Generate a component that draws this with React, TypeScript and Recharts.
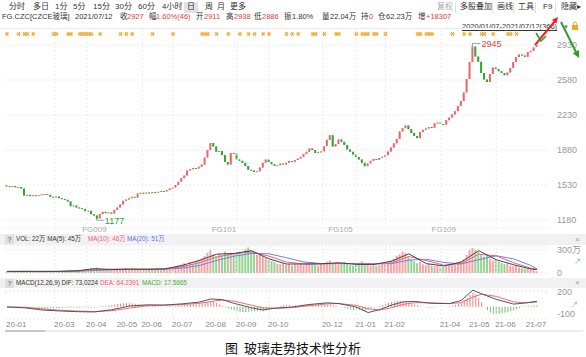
import React from 'react'
import { ComposedChart, Bar, Line, Scatter, XAxis, YAxis, CartesianGrid, ReferenceLine, Cell } from 'recharts'

// closes, one bar = 2 trading days, 2020/01/07 - 2021/07/12
const closes = [
  1518, 1512, 1520, 1508, 1510, 1495, 1425, 1432, 1418, 1428,
  1422, 1430, 1436, 1440, 1432, 1412, 1408, 1415, 1398, 1390,
  1382, 1365, 1318, 1325, 1305, 1298, 1290, 1268, 1272, 1238,
  1225, 1195, 1240, 1262, 1248, 1255, 1245, 1282, 1305, 1335,
  1372, 1385, 1398, 1412, 1405, 1445, 1452, 1448, 1455, 1448,
  1458, 1452, 1462, 1470, 1465, 1478, 1495, 1505, 1530, 1562,
  1598, 1625, 1675, 1688, 1700, 1695, 1712, 1735, 1805, 1880,
  1950, 1915, 1862, 1870, 1830, 1760, 1735, 1850, 1842, 1785,
  1772, 1752, 1720, 1682, 1675, 1660, 1668, 1705, 1752, 1785,
  1760, 1738, 1722, 1728, 1745, 1736, 1752, 1770, 1762, 1780,
  1795, 1812, 1840, 1862, 1895, 1880, 1850, 1858, 1865, 1920,
  1982, 2028, 1915, 1940, 1985, 1962, 1930, 1885, 1862, 1835,
  1810, 1785, 1752, 1718, 1745, 1772, 1790, 1782, 1800, 1812,
  1828, 1865, 1905, 1948, 1990, 2065, 2098, 2125, 2088, 2050,
  2020, 1998, 2060, 2082, 2095, 2110, 2102, 2148, 2155, 2140,
  2135, 2178, 2205, 2235, 2268, 2320, 2370, 2455, 2590, 2760,
  2915, 2815, 2762, 2650, 2585, 2560, 2640, 2705, 2690, 2668,
  2650, 2628, 2655, 2700, 2760, 2810, 2835, 2825, 2812, 2858,
  2872, 2905, 2927,
]
const firstOpen = 1525
const lastOpen = 2911
const lowPoint = { i: 31, value: 1177 }
const highPoint = { i: 160, value: 2945 }

// 成交量（万）
const volumes = [
  18, 22, 15, 20, 25, 16, 30, 22, 18, 20,
  15, 18, 22, 16, 20, 24, 18, 22, 19, 25,
  22, 28, 35, 24, 30, 26, 32, 28, 45, 62,
  58, 70, 55, 48, 42, 38, 45, 40, 52, 48,
  55, 60, 42, 48, 52, 38, 44, 40, 50, 46,
  42, 48, 55, 45, 52, 58, 62, 70, 85, 95,
  110, 125, 98, 140, 120, 155, 170, 185, 220, 260,
  290, 240, 210, 250, 230, 270, 245, 260, 235, 255,
  270, 240, 300, 325, 285, 260, 230, 250, 215, 190,
  165, 150, 140, 120, 110, 125, 105, 115, 95, 110,
  105, 120, 98, 130, 115, 140, 108, 95, 125, 110,
  145, 160, 120, 135, 110, 125, 140, 118, 100, 95,
  112, 130, 150, 125, 105, 95, 110, 90, 100, 115,
  120, 135, 160, 180, 220, 240, 275, 260, 210, 180,
  150, 125, 140, 110, 100, 118, 95, 90, 105, 80,
  75, 95, 110, 120, 105, 130, 150, 175, 230, 290,
  320, 300, 270, 240, 210, 230, 180, 160, 170, 145,
  130, 115, 120, 95, 85, 100, 70, 62, 55, 50,
  45, 38, 22,
]

// volume moving averages read at these bars
const maIdx = [0, 6, 12, 18, 24, 30, 36, 42, 48, 54, 60, 66, 72, 78, 84, 90, 96, 102, 108, 114, 120, 126, 132, 138, 144, 150, 156, 162, 168, 174, 180, 182]
const ma5 = [20, 21, 20, 21, 28, 55, 45, 50, 47, 52, 95, 160, 240, 250, 285, 180, 115, 115, 118, 130, 110, 110, 150, 245, 120, 90, 140, 285, 170, 105, 50, 45]
const ma10 = [20, 20, 20, 21, 26, 42, 48, 48, 48, 50, 80, 130, 205, 245, 270, 215, 140, 115, 115, 125, 118, 112, 130, 210, 160, 100, 120, 240, 220, 130, 60, 46]
const ma20 = [20, 20, 20, 20, 23, 32, 42, 46, 48, 49, 62, 95, 160, 215, 250, 245, 195, 140, 120, 120, 120, 118, 120, 165, 175, 135, 115, 170, 220, 180, 95, 51]

// MACD lines read at these bars
const macdIdx = [0, 6, 12, 18, 24, 30, 36, 42, 48, 54, 60, 66, 70, 74, 78, 84, 88, 92, 98, 104, 110, 114, 120, 124, 128, 132, 136, 140, 146, 152, 156, 160, 163, 168, 174, 178, 182]
const difVals = [-5, -15, -45, -58, -68, -72, -42, 8, 25, 22, 38, 62, 105, 95, 45, -15, -45, -20, -5, 30, 52, 42, -5, -80, -40, 20, 65, 72, 45, 42, 85, 225, 175, 100, 35, 50, 73]
const deaVals = [-3, -8, -30, -48, -60, -66, -55, -20, 12, 20, 28, 45, 70, 90, 75, 20, -15, -25, -12, 15, 38, 42, 18, -30, -45, -15, 30, 55, 52, 42, 55, 130, 170, 140, 65, 52, 64]
const macdHist = [
  0, -2, -3, -5, -8, -10, -14, -18, -22, -25, -28, -30,
  -30, -28, -25, -22, -20, -18, -20, -18, -15, -14, -12, -10,
  -15, -14, -12, -10, -10, -12, -12, -8, 4, 10, 14, 18,
  24, 30, 36, 40, 44, 46, 48, 44, 40, 34, 28, 24,
  20, 16, 12, 8, 6, 4, 4, 6, 8, 10, 14, 18,
  20, 22, 24, 28, 32, 34, 34, 40, 52, 64, 70, 62,
  50, 30, 10, -10, -30, -40, -50, -62, -70, -74, -72, -68,
  -64, -62, -60, -55, -58, -50, -36, -20, -8, 4, 14, 20,
  18, 16, 14, 18, 22, 26, 28, 30, 30, 28, 24, 22,
  20, 24, 28, 26, 18, 10, 0, -10, -20, -30, -40, -44,
  -46, -50, -54, -56, -40, -25, -10, 2, 10, 20, 36, 50,
  64, 72, 76, 80, 78, 70, 56, 40, 30, 20, 10, -2,
  -8, -14, -12, -8, -4, -2, 0, 2, 6, 12, 24, 40,
  60, 90, 120, 160, 190, 170, 120, 60, 0, -50, -80, -96,
  -100, -96, -90, -84, -76, -64, -50, -36, -20, -6, 4, 12,
  14, 16, 18,
]

const monthIdx = [0, 16.5, 27.5, 38, 46.5, 57, 68.5, 79, 90, 108.5, 120, 130, 149, 159, 168, 178.5]
const monthLabels = ['20-01', '20-03', '20-04', '20-05', '20-06', '20-07', '20-08', '20-09', '20-10', '20-12', '21-01', '21-02', '21-04', '21-05', '21-06', '21-07']
const gridIdx = [16.5, 27.5, 46.5, 57, 79, 90, 108.5, 120, 130, 149, 168]
const contractIdx = [30, 74.5, 114.5, 150]
const contractLabels = ['FG009', 'FG101', 'FG105', 'FG109']
const markerIdx = [0, 4, 6, 7, 9, 16, 17, 21, 22, 25, 26, 27, 28, 29, 32, 39, 41, 43, 50, 57, 67, 68, 69, 72, 76, 80, 83, 85, 88, 90, 96, 98, 100, 105, 106, 109, 113, 114, 120, 122, 123, 124, 126, 127, 130, 141, 142, 144, 145, 146, 153, 157, 159, 163, 164, 167, 172, 173, 175]

const priceTicks = [1180, 1530, 1880, 2230, 2580, 2930]
const volTicks = [0, 150, 300]
const macdTicks = [-100, 50, 200]

const UP = '#f06464'
const DOWN = '#30a530'
const GRID = '#ebebeb'
const RED = '#e83a3a'
const xDomain = [-0.69, 185.8]
const FONT = '"Liberation Sans", Arial, "Noto Sans CJK SC", sans-serif'

const rows = closes.map((c, i) => {
  const o = i === 0 ? firstOpen : i === closes.length - 1 ? lastOpen : closes[i - 1]
  let lo = Math.min(o, c)
  let hi = Math.max(o, c)
  if (i === lowPoint.i) lo = lowPoint.value
  if (i === highPoint.i) hi = highPoint.value
  if (hi === lo) hi = lo + 1
  const m = maIdx.indexOf(i)
  const d = macdIdx.indexOf(i)
  return {
    i, o, c, up: c >= o, range: [lo, hi],
    v: volumes[i],
    ma5: m >= 0 ? ma5[m] : null,
    ma10: m >= 0 ? ma10[m] : null,
    ma20: m >= 0 ? ma20[m] : null,
    dif: d >= 0 ? difVals[d] : null,
    dea: d >= 0 ? deaVals[d] : null,
    h: macdHist[i],
  }
})
const markers = markerIdx.map((i) => ({ i, y: 3040 }))

const Candle = (props: any) => {
  const { x, y, width, height, payload } = props
  const [lo, hi] = payload.range
  const top = Math.min(y, y + height)
  const k = Math.abs(height) / (hi - lo)
  const yOf = (v: number) => top + (hi - v) * k
  const cx = x + width / 2
  const color = payload.up ? UP : DOWN
  const bTop = yOf(Math.max(payload.o, payload.c))
  const bBot = yOf(Math.min(payload.o, payload.c))
  return (
    <g>
      <line x1={cx} x2={cx} y1={yOf(hi)} y2={yOf(lo)} stroke={color} strokeWidth={1} />
      <rect x={cx - 1} y={bTop} width={2} height={Math.max(1, bBot - bTop)} fill={color} />
      {payload.i === lowPoint.i && (
        <g>
          <line x1={cx + 1} x2={cx + 7} y1={yOf(lo)} y2={yOf(lo)} stroke="#7fb0e0" />
          <text x={cx + 8} y={yOf(lo) + 3.5} fontSize={9} fill="#3a9a3a">{lowPoint.value}</text>
        </g>
      )}
      {payload.i === highPoint.i && (
        <g>
          <path d={`M${cx},${yOf(hi) + 3} L${cx},${yOf(hi)} L${cx + 8},${yOf(hi)}`} stroke="#7fb0e0" fill="none" />
          <text x={cx + 9} y={yOf(hi) + 3.5} fontSize={9} fill={RED}>{highPoint.value}</text>
        </g>
      )}
    </g>
  )
}

const Star = (props: any) => {
  const { cx, cy } = props
  return (
    <g stroke="#f5a623" strokeWidth={1}>
      <line x1={cx - 2} x2={cx + 2} y1={cy} y2={cy} />
      <line x1={cx - 1.2} x2={cx + 1.2} y1={cy - 2} y2={cy + 2} />
      <line x1={cx + 1.2} x2={cx - 1.2} y1={cy - 2} y2={cy + 2} />
    </g>
  )
}

const MonthTick = (props: any) => {
  const { x, payload } = props
  const k = monthIdx.indexOf(payload.value)
  return <text x={x - 1} y={40} fontSize={8} fill="#888" textAnchor="start">{monthLabels[k]}</text>
}

const Txt = ({ x, y, c = '#333', s = 7.5, u, children }: any) => (
  <div style={{ position: 'absolute', left: x, top: y - (s + 4) / 2, fontSize: s, lineHeight: `${s + 4}px`, color: c, whiteSpace: 'nowrap', textDecoration: u ? 'underline' : undefined }}>{children}</div>
)

const axisTick = { fontSize: 9, fill: '#999' }

export default function App() {
  const grid = gridIdx.map((g) => <ReferenceLine key={g} x={g} stroke={GRID} strokeDasharray="2 2" ifOverflow="visible" />)
  return (
    <div style={{ position: 'relative', width: 586, height: 357, background: '#fff', overflow: 'hidden', fontFamily: FONT }}>
      <style>{'body{margin:0}'}</style>

      {/* main price panel */}
      <div style={{ position: 'absolute', left: 0, top: 0 }}>
        <ComposedChart width={586} height={232} data={rows} margin={{ top: 28, right: 0, bottom: 4, left: 5 }}>
          <CartesianGrid stroke={GRID} strokeDasharray="2 2" vertical={false} />
          {grid}
          <XAxis dataKey="i" type="number" domain={xDomain} hide allowDataOverflow />
          <YAxis orientation="right" domain={[1100, 3100]} ticks={priceTicks} width={38} tickLine={false} axisLine={false} tick={axisTick} tickMargin={3} allowDataOverflow />
          <Bar dataKey="range" barSize={2} shape={<Candle />} isAnimationActive={false} />
          <Scatter data={markers} dataKey="y" shape={<Star />} isAnimationActive={false} />
        </ComposedChart>
      </div>

      {/* volume panel */}
      <div style={{ position: 'absolute', left: 0, top: 243 }}>
        <ComposedChart width={586} height={36} data={rows} margin={{ top: 3, right: 0, bottom: 6, left: 5 }}>
          <CartesianGrid stroke={GRID} strokeDasharray="2 2" vertical={false} />
          {grid}
          <XAxis dataKey="i" type="number" domain={xDomain} hide allowDataOverflow />
          <YAxis orientation="right" domain={[0, 345]} ticks={volTicks} width={38} tickLine={false} axisLine={false} tick={axisTick} tickMargin={3} tickFormatter={(v: number) => (v === 0 ? '0' : `${v}万`)} />
          <Bar dataKey="v" barSize={2} isAnimationActive={false}>
            {rows.map((r) => <Cell key={r.i} fill={r.up ? '#f7a3a3' : '#93d493'} />)}
          </Bar>
          <Line dataKey="ma20" stroke="#6b80f2" strokeWidth={1} dot={false} connectNulls isAnimationActive={false} />
          <Line dataKey="ma10" stroke="#f0607a" strokeWidth={1} dot={false} connectNulls isAnimationActive={false} />
          <Line dataKey="ma5" stroke="#444" strokeWidth={1} dot={false} connectNulls isAnimationActive={false} />
        </ComposedChart>
      </div>

      {/* MACD panel */}
      <div style={{ position: 'absolute', left: 0, top: 287 }}>
        <ComposedChart width={586} height={46} data={rows} margin={{ top: 3, right: 0, bottom: 0, left: 5 }}>
          <CartesianGrid stroke={GRID} strokeDasharray="2 2" vertical={false} />
          {grid}
          <XAxis dataKey="i" type="number" domain={xDomain} ticks={monthIdx} interval={0} tick={<MonthTick />} height={14} tickLine={false} axisLine={false} allowDataOverflow />
          <YAxis orientation="right" domain={[-168, 227]} ticks={macdTicks} width={38} tickLine={false} axisLine={false} tick={axisTick} tickMargin={3} />
          <Bar dataKey="h" barSize={1} isAnimationActive={false}>
            {rows.map((r) => <Cell key={r.i} fill={r.h >= 0 ? '#f07c7c' : '#6cc46c'} />)}
          </Bar>
          <Line dataKey="dea" stroke="#f06a7a" strokeWidth={1} dot={false} connectNulls isAnimationActive={false} />
          <Line dataKey="dif" stroke="#555" strokeWidth={1} dot={false} connectNulls isAnimationActive={false} />
        </ComposedChart>
      </div>

      {/* toolbar */}
      <div style={{ position: 'absolute', left: 184, top: 2, width: 14, height: 11, background: '#e2e2e2' }} />
      {[['分时', 9], ['多日', 33], ['1分', 55], ['5分', 73], ['15分', 93], ['30分', 115], ['60分', 138], ['4小时', 162], ['日', 187], ['周', 205], ['月', 217], ['更多', 230]].map(([t, x]) => (
        <Txt key={t as string} x={x} y={7} s={8}>{t}</Txt>
      ))}
      <Txt x={437} y={7} s={8} c="#aaa">复权</Txt>
      <Txt x={460} y={7} s={8}>多股叠加</Txt>
      <Txt x={497} y={7} s={8}>画线</Txt>
      <Txt x={518} y={7} s={8}>工具</Txt>
      <Txt x={543} y={7} s={8}>F9</Txt>
      <Txt x={561} y={7} s={8}>隐藏▸</Txt>
      {[455, 492, 513, 535, 555].map((x) => (
        <div key={x} style={{ position: 'absolute', left: x, top: 2, width: 1, height: 11, background: '#e0e0e0' }} />
      ))}

      {/* quote line */}
      <Txt x={2} y={17}>FG.CZC[CZCE玻璃]</Txt>
      <Txt x={75} y={17}>2021/07/12</Txt>
      <Txt x={120} y={17}>收</Txt><Txt x={127} y={17} c={RED}>2927</Txt>
      <Txt x={149} y={17}>幅</Txt><Txt x={156} y={17} c={RED}>1.60%(46)</Txt>
      <Txt x={196} y={17}>开</Txt><Txt x={204} y={17} c={RED}>2911</Txt>
      <Txt x={226} y={17}>高</Txt><Txt x={234} y={17} c={RED}>2938</Txt>
      <Txt x={254} y={17}>低</Txt><Txt x={262} y={17} c={RED}>2886</Txt>
      <Txt x={284} y={17}>振</Txt><Txt x={292} y={17}>1.80%</Txt>
      <Txt x={322} y={17}>量</Txt><Txt x={330} y={17}>22.04万</Txt>
      <Txt x={361} y={17}>持</Txt><Txt x={369} y={17} c={RED}>0</Txt>
      <Txt x={378} y={17}>仓</Txt><Txt x={386} y={17}>62.23万</Txt>
      <Txt x={418} y={17}>增</Txt><Txt x={426} y={17} c={RED}>+18307</Txt>

      <Txt x={462} y={27} u>2020/01/07-2021/07/12(366)</Txt>
      <Txt x={563} y={27} c="#777" s={6}>▼</Txt>
      <div style={{ position: 'absolute', left: 0, top: 28, width: 548, height: 1, background: '#efefef' }} />

      {contractIdx.map((ci, k) => (
        <div key={ci} style={{ position: 'absolute', left: 7 + ci * 2.912, top: 225, transform: 'translateX(-50%)', fontSize: 8, lineHeight: '10px', color: '#aaa' }}>{contractLabels[k]}</div>
      ))}

      {/* VOL header */}
      <div style={{ position: 'absolute', left: 0, top: 234, width: 586, height: 11, background: '#f1f1f1' }} />
      <div style={{ position: 'absolute', left: 5, top: 235, width: 9, height: 9, background: '#dedede', fontSize: 7, lineHeight: '9px', textAlign: 'center', color: '#555' }}>?</div>
      <Txt x={16} y={239.5} s={6.3}>VOL: 22万 MA(5): 45万</Txt>
      <Txt x={88} y={239.5} s={6.3} c="#f0607a">MA(10): 46万</Txt>
      <Txt x={127} y={239.5} s={6.3} c="#5a73e8">MA(20): 51万</Txt>
      <Txt x={575} y={239.5} s={8} c="#999">×</Txt>
      <Txt x={574} y={261} c="#3cbfd0" s={7}>↗</Txt>

      {/* MACD header */}
      <div style={{ position: 'absolute', left: 0, top: 278, width: 586, height: 10, background: '#f1f1f1' }} />
      <div style={{ position: 'absolute', left: 5, top: 278.5, width: 9, height: 9, background: '#dedede', fontSize: 7, lineHeight: '9px', textAlign: 'center', color: '#555' }}>?</div>
      <Txt x={16} y={283} s={6.3}>MACD(12,26,9) DIF: 73.0224</Txt>
      <Txt x={100} y={283} s={6.3} c="#f0607a">DEA: 64.2391</Txt>
      <Txt x={142} y={283} s={6.3} c="#3cb03c">MACD: 17.5665</Txt>
      <Txt x={575} y={283} s={8} c="#999">×</Txt>
      <Txt x={571} y={304} c="#3cbfd0" s={7}>↗</Txt>

      {/* scrollbar */}
      <div style={{ position: 'absolute', left: 5, top: 330, width: 578, height: 2, background: '#ececec' }} />
      <div style={{ position: 'absolute', left: 5, top: 330, width: 40, height: 2, background: '#c6c6c6' }} />

      {/* drawn annotations */}
      <svg width={586} height={357} style={{ position: 'absolute', left: 0, top: 0, pointerEvents: 'none' }}>
        <rect x={572} y={25} width={6} height={5} fill="#f5a623" />
        <path d="M573.5,25 v-1.5 a1.5,1.5 0 0 1 3,0 v1.5" stroke="#f5a623" fill="none" />
        <line x1={535} y1={45} x2={555} y2={21} stroke="#e8262a" strokeWidth={2} />
        <polygon points="558,17 556.5,23.5 551.9,19.7" fill="#e8262a" />
        <polyline points="536,33 541,41 546,36" stroke="#2a9d2a" strokeWidth={1.5} fill="none" />
        <line x1={561} y1={22} x2={576} y2={52} stroke="#2a9d2a" strokeWidth={2} />
        <polygon points="579,58 579,50.1 572.8,53.3" fill="#2a9d2a" />
      </svg>

      <div style={{ position: 'absolute', left: 0, top: 339, width: 586, textAlign: 'center', fontSize: 13, lineHeight: '18px', color: '#111', fontFamily: '"Noto Sans CJK SC", sans-serif' }}>图&nbsp;&nbsp;玻璃走势技术性分析</div>
    </div>
  )
}
